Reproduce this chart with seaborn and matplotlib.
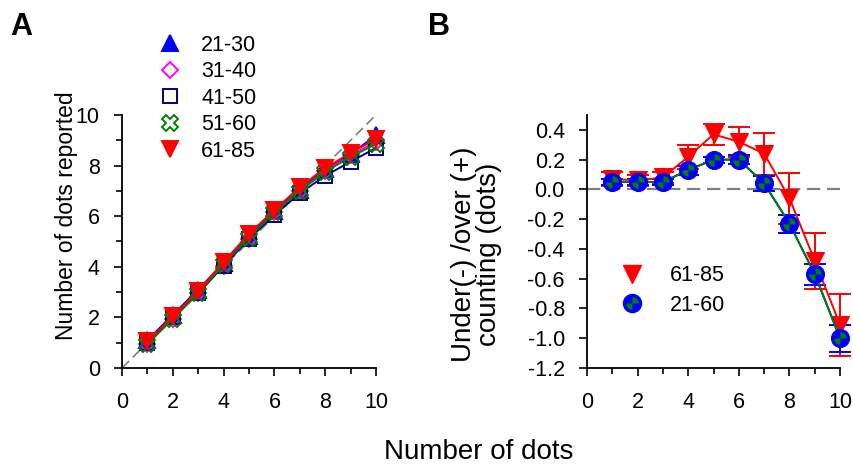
"""Dot counting accuracy by age group: reported dots and under/over counting."""

import matplotlib
matplotlib.use("Agg")
import matplotlib.pyplot as plt
import matplotlib.path as mpath
from matplotlib.lines import Line2D
import seaborn as sns
import pandas as pd

# ---- data ----
n_dots = [1, 2, 3, 4, 5, 6, 7, 8, 9, 10]

age_groups = ["21-30", "31-40", "41-50", "51-60", "61-85"]
rep_21_30 = [1.10, 2.10, 3.10, 4.15, 5.20, 6.20, 7.05, 7.85, 8.45, 9.20]
rep_31_40 = [0.95, 1.95, 2.95, 4.05, 5.10, 6.15, 7.00, 7.80, 8.40, 8.95]
rep_41_50 = [1.00, 2.00, 2.95, 4.05, 5.10, 6.05, 6.90, 7.60, 8.15, 8.70]
rep_51_60 = [0.95, 1.95, 2.95, 4.10, 5.15, 6.15, 7.00, 7.75, 8.35, 8.85]
rep_61_85 = [1.05, 2.05, 3.05, 4.20, 5.30, 6.25, 7.15, 7.90, 8.50, 9.05]

err_61_85 = [0.07, 0.06, 0.08, 0.22, 0.37, 0.32, 0.24, -0.06, -0.48, -0.91]
sem_61_85 = [0.05, 0.04, 0.04, 0.08, 0.07, 0.10, 0.14, 0.17, 0.19, 0.21]
err_21_60 = [0.05, 0.05, 0.05, 0.13, 0.20, 0.20, 0.04, -0.23, -0.57, -1.00]
sem_21_60 = [0.02, 0.02, 0.02, 0.03, 0.02, 0.03, 0.05, 0.06, 0.07, 0.09]

FONT = ["Liberation Sans", "DejaVu Sans"]
LEGEND_SIZE = 15.5


def quarter_marker():
    """Two opposite quarter wedges (NE and SW) for the 21-60 marker."""
    ne = mpath.Path.wedge(0, 90)
    sw = mpath.Path.wedge(180, 270)
    return mpath.Path.make_compound_path(ne, sw)


def plot_reported(ax):
    """Panel A: number of dots reported by age group."""
    styles = {
        "21-30": dict(marker="^", color="blue", mfc="blue", mec="blue", ms=11),
        "31-40": dict(marker="D", color="magenta", mfc="none", mec="magenta", ms=8.5),
        "41-50": dict(marker="s", color="navy", mfc="none", mec="navy", ms=9.5),
        "51-60": dict(marker="X", color="green", mfc="none", mec="green", ms=11),
        "61-85": dict(marker="v", color="red", mfc="red", mec="red", ms=12),
    }
    series = [rep_21_30, rep_31_40, rep_41_50, rep_51_60, rep_61_85]
    ax.plot([0, 10], [0, 10], ls=(0, (6, 3)), color="gray", lw=1.2, zorder=1)
    handles = []
    for grp, vals in zip(age_groups, series):
        st = styles[grp]
        dfrm = pd.DataFrame({"x": n_dots, "y": vals})
        sns.lineplot(data=dfrm, x="x", y="y", ax=ax, color=st["color"], lw=1.4,
                     marker=st["marker"], markersize=st["ms"],
                     markerfacecolor=st["mfc"], markeredgecolor=st["mec"],
                     markeredgewidth=1.4, zorder=3, clip_on=False)
        handles.append(Line2D([], [], ls="none", marker=st["marker"], ms=st["ms"],
                              mfc=st["mfc"], mec=st["mec"], mew=1.4, label=grp))
    ax.set_xlim(0, 10)
    ax.set_ylim(0, 10)
    ax.set_xticks(range(0, 11, 2))
    ax.set_yticks(range(0, 11, 2))
    ax.set_xticks(range(1, 10, 2), minor=True)
    ax.set_yticks(range(1, 10, 2), minor=True)
    ax.set_xlabel("")
    ax.set_ylabel("Number of dots reported", fontsize=16.5, family=FONT)
    ax.yaxis.set_label_coords(-0.175, 0.60)
    leg = ax.legend(handles=handles, loc="upper left", bbox_to_anchor=(0.10, 1.35),
                    frameon=False, fontsize=LEGEND_SIZE, labelspacing=0.25,
                    handletextpad=0.8, borderaxespad=0, handlelength=1.3)
    for txt in leg.get_texts():
        txt.set_family(FONT)


def plot_counting(ax):
    """Panel B: under/over counting for the two age groups."""
    ax.axhline(0, ls=(0, (6, 3)), color="gray", lw=1.6, zorder=1)
    ax.errorbar(n_dots, err_61_85, yerr=sem_61_85, fmt="none", ecolor="red",
                elinewidth=1.4, capsize=8, capthick=1.4, zorder=2, clip_on=False)
    ax.errorbar(n_dots, err_21_60, yerr=sem_21_60, fmt="none", ecolor="blue",
                elinewidth=1.4, capsize=8, capthick=1.4, zorder=2, clip_on=False)
    old = pd.DataFrame({"x": n_dots, "y": err_61_85})
    young = pd.DataFrame({"x": n_dots, "y": err_21_60})
    sns.lineplot(data=old, x="x", y="y", ax=ax, color="red", lw=1.4,
                 marker="v", markersize=13, markerfacecolor="red",
                 markeredgecolor="red", zorder=3, clip_on=False)
    sns.lineplot(data=young, x="x", y="y", ax=ax, color="blue", lw=1.4, zorder=3)
    sns.lineplot(data=young, x="x", y="y", ax=ax, color="green", lw=1.4,
                 marker="o", markersize=13, markerfacecolor="blue",
                 markeredgecolor="blue", zorder=4, clip_on=False)
    qmark = quarter_marker()
    ax.plot(n_dots, err_21_60, ls="none", marker=qmark, ms=9, mfc="green",
            mec="none", zorder=5, clip_on=False)
    ax.set_xlim(0, 10)
    ax.set_ylim(-1.2, 0.5)
    ax.set_xticks(range(0, 11, 2))
    ax.set_xticks(range(1, 10, 2), minor=True)
    ax.set_yticks([-1.2, -1.0, -0.8, -0.6, -0.4, -0.2, 0.0, 0.2, 0.4])
    ax.set_yticklabels(["%.1f" % v for v in ax.get_yticks()])
    ax.set_xlabel("")
    ax.set_ylabel("Under(-) /over (+)\ncounting (dots)", fontsize=20,
                  family=FONT, linespacing=0.95)
    ax.yaxis.set_label_coords(-0.335, 0.45)
    h_old = Line2D([], [], ls="none", marker="v", ms=13, mfc="red", mec="red")
    h_circ = Line2D([], [], ls="none", marker="o", ms=13, mfc="blue", mec="blue")
    h_q = Line2D([], [], ls="none", marker=qmark, ms=9, mfc="green", mec="none")
    leg = ax.legend([h_old, (h_circ, h_q)], ["61-85", "21-60"], loc="lower left",
                    bbox_to_anchor=(0.045, 0.13), frameon=False, fontsize=LEGEND_SIZE,
                    labelspacing=0.4, handletextpad=1.1, handlelength=1.3)
    for txt in leg.get_texts():
        txt.set_family(FONT)


sns.set_theme(style="ticks")
plt.rcParams["font.family"] = FONT
plt.rcParams["xtick.labelsize"] = 15.5
plt.rcParams["ytick.labelsize"] = 15.5
plt.rcParams["text.color"] = "black"
plt.rcParams["axes.labelcolor"] = "black"

fig = plt.figure(figsize=(8.54, 4.67), dpi=100)
ax_a = fig.add_axes([0.1429, 0.212, 0.2974, 0.5418])
ax_b = fig.add_axes([0.6874, 0.212, 0.2963, 0.5418])
plot_reported(ax_a)
plot_counting(ax_b)

for axis in (ax_a, ax_b):
    sns.despine(ax=axis)
    for side in ("left", "bottom"):
        axis.spines[side].set_color("black")
        axis.spines[side].set_linewidth(1.3)
    axis.tick_params(which="major", length=6, width=1.2, color="black",
                     labelcolor="black")
    axis.tick_params(which="minor", length=4, width=1.2, color="black")
    axis.tick_params(axis="y", which="major", pad=10)
    axis.tick_params(axis="x", which="major", pad=11)

fig.text(0.561, 0.032, "Number of dots", ha="center", va="center", fontsize=20)
fig.text(0.012, 0.974, "A", fontsize=22, fontweight="bold", va="top")
fig.text(0.501, 0.974, "B", fontsize=22, fontweight="bold", va="top")

fig.savefig("out.png", dpi=100)
